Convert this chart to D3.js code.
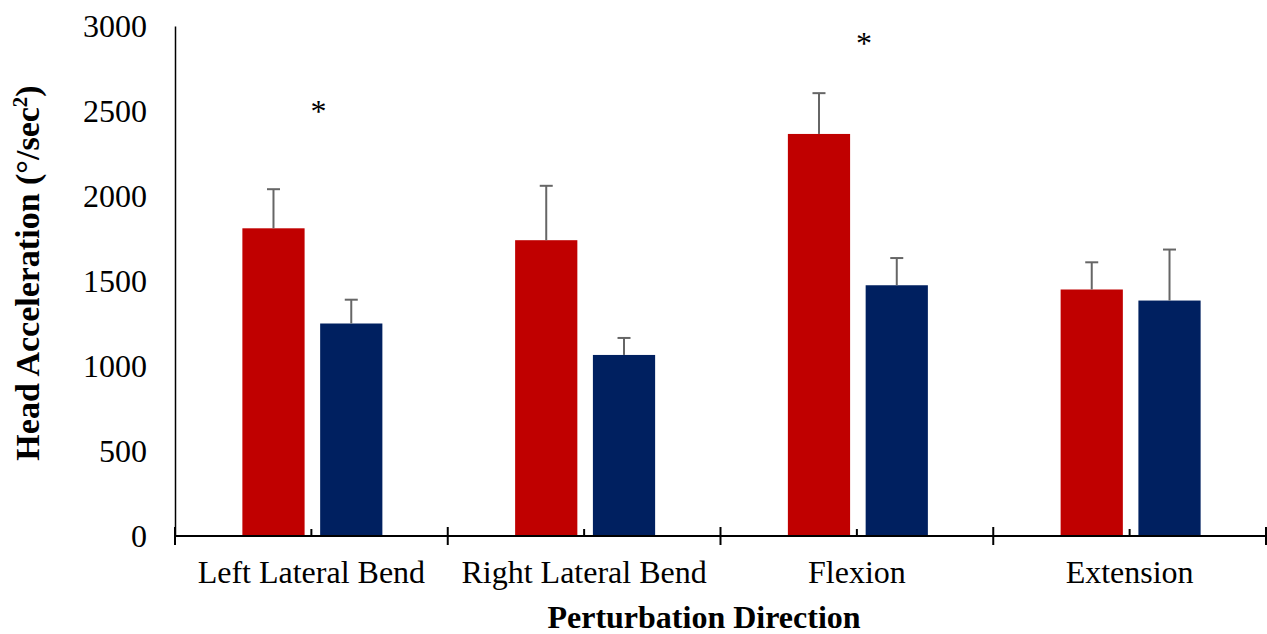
<!DOCTYPE html>
<html>
<head>
<meta charset="utf-8">
<script src="https://cdn.jsdelivr.net/npm/d3@7"></script>
<style>
  body { margin: 0; background: #fff; }
  text { font-family: "Liberation Serif", "Times New Roman", serif; fill: #000; }
</style>
</head>
<body>
<svg id="chart"></svg>
<script>
// chart data
const categories = ['Left Lateral Bend', 'Right Lateral Bend', 'Flexion', 'Extension']
const seriesNames = ['groupA', 'groupB']
const groupA = [1810, 1740, 2365, 1450]
const groupB = [1250, 1065, 1475, 1385]
const groupAErr = [230, 320, 240, 160]
const groupBErr = [140, 100, 160, 300]
const yTicks = [0, 500, 1000, 1500, 2000, 2500, 3000]
// significance markers: category, value level
const starCats = ['Left Lateral Bend', 'Flexion']
const starValues = [2570, 2970]

const width = 1267
const height = 634
const colors = {groupA: '#c00000', groupB: '#002060'}

const svg = d3.select('#chart')
  .attr('width', width)
  .attr('height', height)

// scales
const xScale = d3.scaleBand()
  .domain(categories)
  .range([175, 1266])
  .padding(0)
const yScale = d3.scaleLinear()
  .domain([0, 3000])
  .range([536, 26])
const innerScale = d3.scaleBand()
  .domain(seriesNames)
  .range([-69, 71])
  .paddingInner(0.2)

const rows = categories.map((c, i) => ({
  cat: c,
  values: [
    {key: 'groupA', val: groupA[i], err: groupAErr[i]},
    {key: 'groupB', val: groupB[i], err: groupBErr[i]}
  ]
}))

const center = c => xScale(c) + xScale.bandwidth() / 2

// bars
const groups = svg.selectAll('.cat')
  .data(rows)
  .enter()
  .append('g')
  .attr('transform', d => `translate(${center(d.cat)},0)`)

groups.selectAll('rect')
  .data(d => d.values)
  .enter()
  .append('rect')
  .attr('x', d => innerScale(d.key))
  .attr('y', d => yScale(d.val))
  .attr('width', innerScale.bandwidth())
  .attr('height', d => yScale(0) - yScale(d.val))
  .style('fill', d => colors[d.key])

// error bars (upper only)
const errs = groups.selectAll('.err')
  .data(d => d.values)
  .enter()
  .append('g')
  .attr('class', 'err')
  .attr('stroke', '#666')
  .attr('stroke-width', 2)
errs.append('line')
  .attr('x1', d => innerScale(d.key) + innerScale.bandwidth() / 2)
  .attr('x2', d => innerScale(d.key) + innerScale.bandwidth() / 2)
  .attr('y1', d => yScale(d.val))
  .attr('y2', d => yScale(d.val + d.err))
errs.append('line')
  .attr('x1', d => innerScale(d.key) + innerScale.bandwidth() / 2 - 6.5)
  .attr('x2', d => innerScale(d.key) + innerScale.bandwidth() / 2 + 6.5)
  .attr('y1', d => yScale(d.val + d.err))
  .attr('y2', d => yScale(d.val + d.err))

// y axis: line and labels, no ticks
const yAxis = svg.append('g')
  .attr('transform', 'translate(175,0)')
  .call(d3.axisLeft(yScale).tickValues(yTicks).tickSize(0).tickPadding(28).tickFormat(d3.format('d')))
yAxis.select('.domain').attr('stroke', '#000').attr('stroke-width', 1.5)
yAxis.selectAll('text')
  .style('font-family', '"Liberation Serif", serif')
  .style('font-size', '32px')

// x axis: line, boundary ticks, mid ticks
const xAxisG = svg.append('g')
xAxisG.append('line')
  .attr('x1', 175).attr('x2', 1266)
  .attr('y1', yScale(0)).attr('y2', yScale(0))
  .attr('stroke', '#000').attr('stroke-width', 2)
const bounds = categories.map(c => xScale(c)).concat([xScale.range()[1]])
xAxisG.selectAll('.major')
  .data(bounds)
  .enter()
  .append('line')
  .attr('x1', d => d).attr('x2', d => d)
  .attr('y1', yScale(0) - 9).attr('y2', yScale(0) + 9)
  .attr('stroke', '#000').attr('stroke-width', 2)
xAxisG.selectAll('.minor')
  .data(categories)
  .enter()
  .append('line')
  .attr('x1', d => center(d)).attr('x2', d => center(d))
  .attr('y1', yScale(0) - 7).attr('y2', yScale(0))
  .attr('stroke', '#000').attr('stroke-width', 2)
xAxisG.selectAll('.xlab')
  .data(categories)
  .enter()
  .append('text')
  .attr('x', d => center(d))
  .attr('y', 583)
  .style('font-size', '32px')
  .style('text-anchor', 'middle')
  .text(d => d)

// significance stars
svg.selectAll('.star')
  .data(starCats)
  .enter()
  .append('text')
  .attr('x', d => center(d) + 7)
  .attr('y', (d, i) => yScale(starValues[i]))
  .attr('dy', '0.7em')
  .style('font-size', '32px')
  .style('text-anchor', 'middle')
  .text('*')

// axis titles
svg.append('text')
  .attr('x', 704)
  .attr('y', 628)
  .style('font-size', '32px')
  .style('font-weight', 'bold')
  .style('text-anchor', 'middle')
  .text('Perturbation Direction')

const yTitle = svg.append('text')
  .attr('transform', 'translate(39,273) rotate(-90)')
  .style('font-size', '34px')
  .style('font-weight', 'bold')
  .style('text-anchor', 'middle')
yTitle.append('tspan').text('Head Acceleration (°/sec')
yTitle.append('tspan').attr('dy', -12).style('font-size', '21px').text('2')
yTitle.append('tspan').attr('dy', 12).text(')')
</script>
</body>
</html>
